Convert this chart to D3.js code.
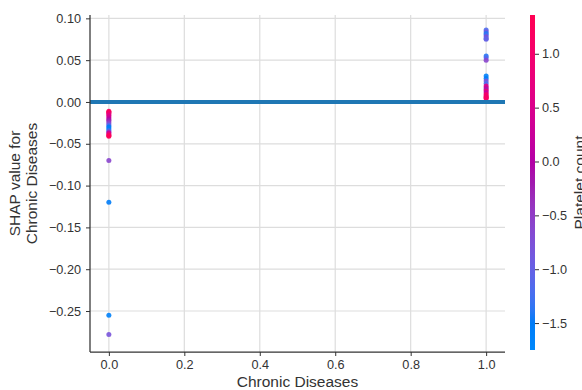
<!DOCTYPE html>
<html>
<head>
<meta charset="utf-8">
<script src="https://cdn.jsdelivr.net/npm/d3@7"></script>
<style>
  html, body { margin: 0; padding: 0; background: #fff; }
  svg { display: block; font-family: "Liberation Sans", Arial, sans-serif; }
</style>
</head>
<body>
<svg id="chart" width="582" height="390"></svg>
<script>
// Feature value (Chronic Diseases: 0 or 1), SHAP value, and Platelet count colour value
const featureX = [
  0, 0, 0, 0, 0, 0, 0, 0, 0, 0, 0, 0, 0, 0, 0, 0, 0, 0, 0,
  0, 0, 0, 0,
  1, 1, 1, 1, 1, 1, 1,
  1, 1, 1,
  1, 1, 1, 1, 1, 1, 1, 1, 1, 1, 1, 1, 1, 1
];
const shapValues = [
  -0.011, -0.012, -0.013, -0.014, -0.016, -0.018, -0.020, -0.022, -0.024, -0.026,
  -0.028, -0.030, -0.032, -0.034, -0.036, -0.037, -0.039, -0.040, -0.041,
  -0.070, -0.120, -0.255, -0.278,
  0.086, 0.084, 0.082, 0.080, 0.078, 0.076, 0.075,
  0.055, 0.053, 0.050,
  0.031, 0.028, 0.025, 0.022, 0.019, 0.017, 0.015, 0.013, 0.011, 0.009, 0.007, 0.006, 0.005, 0.004
];
const plateletCount = [
  1.25, 1.1, 1.3, 0.9, 0.6, 0.4, 0.1, -0.2, -0.4, -0.7,
  -1.2, -1.5, -1.6, -1.3, -0.5, 0.3, 0.9, 1.2, 1.3,
  -0.6, -1.5, -1.6, -0.8,
  -1.2, -0.9, -1.4, -1.3, -0.7, -1.1, -1.0,
  -1.4, -1.2, -0.6,
  -1.6, -1.5, -0.8, -1.2, 0.6, 0.3, -0.2, 0.8, 0.2, 1.0, 1.2, 0.7, 1.3, 1.1
];

const xTicks = [0.0, 0.2, 0.4, 0.6, 0.8, 1.0];
const yTicks = [0.10, 0.05, 0.00, -0.05, -0.10, -0.15, -0.20, -0.25];
const cbTicks = [1.0, 0.5, 0.0, -0.5, -1.0, -1.5];

const xLabel = "Chronic Diseases";
const yLabelLines = ["SHAP value for", "Chronic Diseases"];
const colorLabel = "Platelet count";

const svg = d3.select("#chart");
const plot = { left: 90, right: 505, top: 15, bottom: 352 };
const textColor = "#333333";
const gridColor = "#dddddd";
const minus = s => s.replace("-", "\u2212");

const x = d3.scaleLinear().domain([-0.05, 1.05]).range([plot.left, plot.right]);
const y = d3.scaleLinear().domain([-0.299, 0.104]).range([plot.bottom, plot.top]);

// Red/blue colour map in LCH space: hue sweeps blue -> red through purple,
// chroma rises linearly and lightness dips in the middle.
const cmin = -1.75, cmax = 1.36;
function interp(t) {
  t = Math.max(0, Math.min(1, t));
  const l = t < 0.5 ? 54 + (40 - 54) * (t / 0.5) : 40 + (54 - 40) * ((t - 0.5) / 0.5);
  const c = 70 + (90 - 70) * t;
  const h = 266.93 + (380.32 - 266.93) * t;
  return d3.hcl(h, c, l).formatHex();
}
const color = v => interp((v - cmin) / (cmax - cmin));

// grid
const grid = svg.append("g");
grid.selectAll("line.gx").data(xTicks).join("line")
  .attr("x1", d => x(d)).attr("x2", d => x(d))
  .attr("y1", plot.top).attr("y2", plot.bottom)
  .attr("stroke", gridColor).attr("stroke-width", 1.2);
grid.selectAll("line.gy").data(yTicks).join("line")
  .attr("y1", d => y(d)).attr("y2", d => y(d))
  .attr("x1", plot.left).attr("x2", plot.right)
  .attr("stroke", gridColor).attr("stroke-width", 1.2);

// points
const pts = featureX.map((fx, i) => ({ fx, sv: shapValues[i], c: plateletCount[i] }));
svg.append("g").selectAll("circle").data(pts).join("circle")
  .attr("cx", d => x(d.fx))
  .attr("cy", d => y(d.sv))
  .attr("r", 2.5)
  .attr("fill", d => color(d.c))
  .attr("fill-opacity", 0.9);

// zero reference line
svg.append("line")
  .attr("x1", plot.left).attr("x2", plot.right)
  .attr("y1", y(0)).attr("y2", y(0))
  .attr("stroke", "#1f77b4").attr("stroke-width", 4);

// axes
const xAxis = d3.axisBottom(x).tickValues(xTicks).tickSize(4).tickPadding(4)
  .tickFormat(d => minus(d3.format(".1f")(d)));
const yAxis = d3.axisLeft(y).tickValues(yTicks).tickSize(4).tickPadding(5)
  .tickFormat(d => minus(d3.format(".2f")(d)));

const gx = svg.append("g").attr("transform", `translate(0,${plot.bottom})`).call(xAxis);
const gy = svg.append("g").attr("transform", `translate(${plot.left},0)`).call(yAxis);
[gx, gy].forEach(g => {
  g.select(".domain").remove();
  g.selectAll(".tick line").attr("stroke", textColor).attr("stroke-width", 1);
  g.selectAll(".tick text").attr("fill", textColor).style("font-size", "12.7px")
    .style("font-family", "'Liberation Sans', Arial, sans-serif");
});

// spines (left and bottom only)
svg.append("line").attr("x1", plot.left).attr("x2", plot.left)
  .attr("y1", plot.top).attr("y2", plot.bottom)
  .attr("stroke", textColor).attr("stroke-width", 1.25);
svg.append("line").attr("x1", plot.left).attr("x2", plot.right)
  .attr("y1", plot.bottom).attr("y2", plot.bottom)
  .attr("stroke", textColor).attr("stroke-width", 1.25);

// axis labels
svg.append("text")
  .attr("x", (plot.left + plot.right) / 2).attr("y", 387)
  .attr("text-anchor", "middle").attr("fill", textColor)
  .style("font-size", "15.5px").text(xLabel);

const yl = svg.append("text")
  .attr("transform", `translate(20,${(plot.top + plot.bottom) / 2}) rotate(-90)`)
  .attr("text-anchor", "middle").attr("fill", textColor).style("font-size", "15.5px");
yLabelLines.forEach((t, i) => {
  yl.append("tspan").attr("x", 0).attr("y", i * 16.5).text(t);
});

// colour bar
const cb = { x: 530, w: 5, top: 15, bottom: 350 };
const cy = d3.scaleLinear().domain([cmin, cmax]).range([cb.bottom, cb.top]);
const defs = svg.append("defs");
const grad = defs.append("linearGradient").attr("id", "cbgrad")
  .attr("x1", 0).attr("y1", 1).attr("x2", 0).attr("y2", 0);
d3.range(0, 1.0001, 0.02).forEach(t => {
  grad.append("stop").attr("offset", t).attr("stop-color", interp(t));
});
svg.append("rect")
  .attr("x", cb.x).attr("y", cb.top)
  .attr("width", cb.w).attr("height", cb.bottom - cb.top)
  .attr("fill", "url(#cbgrad)");

const cAxis = d3.axisRight(cy).tickValues(cbTicks).tickSize(4).tickPadding(3)
  .tickFormat(d => minus(d3.format(".1f")(d)));
const gc = svg.append("g").attr("transform", `translate(${cb.x + cb.w},0)`).call(cAxis);
gc.select(".domain").remove();
gc.selectAll(".tick line").attr("stroke", textColor);
gc.selectAll(".tick text").attr("fill", textColor).style("font-size", "12.7px")
  .style("font-family", "'Liberation Sans', Arial, sans-serif");

svg.append("text")
  .attr("transform", `translate(585,${(cb.top + cb.bottom) / 2}) rotate(-90)`)
  .attr("text-anchor", "middle").attr("fill", textColor)
  .style("font-size", "15.5px").text(colorLabel);
</script>
</body>
</html>
